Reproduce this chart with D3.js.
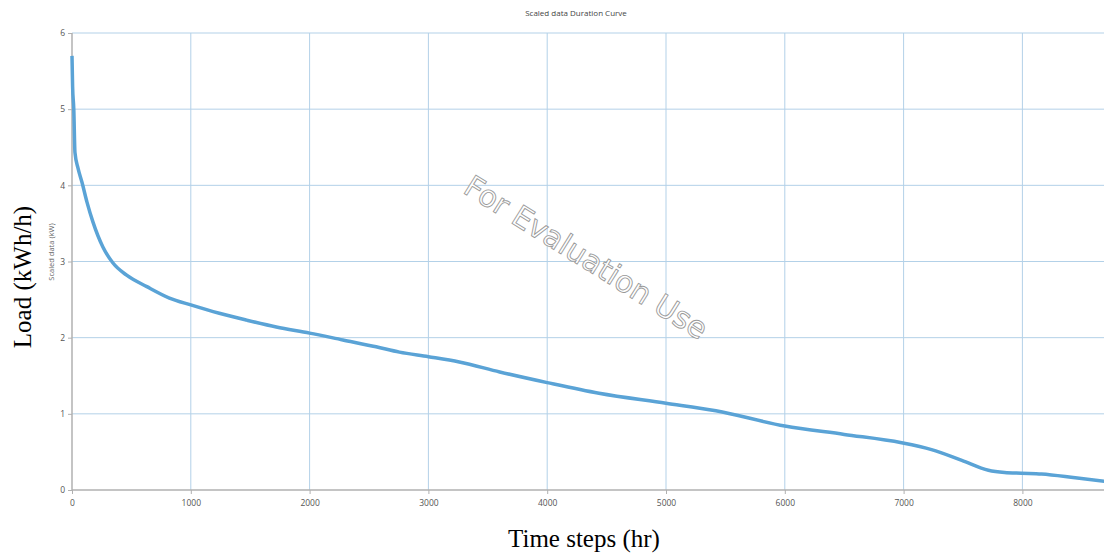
<!DOCTYPE html>
<html>
<head>
<meta charset="utf-8">
<script src="https://cdn.jsdelivr.net/npm/d3@7"></script>
<style>
  body { margin: 0; background: #fff; }
  svg { display: block; }
</style>
</head>
<body>
<script>
// load duration curve
var hours = [0, 5, 15, 25, 50, 84, 126, 176, 260, 345, 460, 630, 820, 1000, 1240, 1470,
    1720, 2000, 2280, 2560, 2756, 3000, 3260, 3600, 4000, 4436, 5000, 5420, 6000, 6500,
    6983, 7235, 7490, 7714, 7850, 7992, 8160, 8445, 8760];
var load = [5.7, 5.3, 5.0, 4.43, 4.23, 4.04, 3.78, 3.52, 3.19, 2.98, 2.82, 2.67, 2.52, 2.43,
    2.32, 2.23, 2.14, 2.06, 1.97, 1.88, 1.81, 1.75, 1.68, 1.55, 1.41, 1.27, 1.14, 1.04,
    0.84, 0.73, 0.62, 0.53, 0.39, 0.26, 0.23, 0.22, 0.21, 0.16, 0.10];
var xTicks = [0, 1000, 2000, 3000, 4000, 5000, 6000, 7000, 8000];
var yTicks = [0, 1, 2, 3, 4, 5, 6];

var W = 1104, H = 555;
var mLeft = 72, mTop = 33, mBottom = 490;

var svg = d3.select("body").append("svg")
    .attr("width", W)
    .attr("height", H);

var x = d3.scaleLinear().domain([0, 8760]).range([mLeft, mLeft + 8.76 * 118.8]);
var y = d3.scaleLinear().domain([0, 6]).range([mBottom, mTop]);

// grid
svg.append("g").selectAll("line").data(xTicks.filter(function (d) { return d > 0; }))
    .enter().append("line")
    .attr("x1", function (d) { return x(d); }).attr("x2", function (d) { return x(d); })
    .attr("y1", mTop).attr("y2", mBottom)
    .attr("stroke", "#b3d1e8").attr("stroke-width", 1);
svg.append("g").selectAll("line").data(yTicks.filter(function (d) { return d > 0; }))
    .enter().append("line")
    .attr("x1", mLeft).attr("x2", W)
    .attr("y1", function (d) { return y(d); }).attr("y2", function (d) { return y(d); })
    .attr("stroke", "#b3d1e8").attr("stroke-width", 1);

// axes
var axisX = d3.axisBottom(x).tickValues(xTicks).tickFormat(d3.format("d")).tickSize(4).tickPadding(6);
var axisY = d3.axisLeft(y).tickValues(yTicks).tickFormat(d3.format("d")).tickSize(4).tickPadding(3);

var gx = svg.append("g").attr("transform", "translate(0," + mBottom + ")").call(axisX);
var gy = svg.append("g").attr("transform", "translate(" + mLeft + ",0)").call(axisY);
gx.select(".domain").attr("d", "M" + mLeft + ",0H" + W);
gy.select(".domain").attr("d", "M0," + mTop + "V" + mBottom);
[gx, gy].forEach(function (g) {
    g.select(".domain").attr("stroke", "#b0b0b0").attr("stroke-width", 1.5);
    g.selectAll(".tick line").attr("stroke", "#b0b0b0");
    g.selectAll(".tick text").attr("fill", "#555")
        .style("font-family", "'Open Sans', 'DejaVu Sans', sans-serif")
        .style("font-size", "8.5px");
});

// watermark
svg.append("text")
    .attr("transform", "translate(585,259) rotate(32)")
    .attr("text-anchor", "middle")
    .attr("dominant-baseline", "middle")
    .style("font-family", "'DejaVu Sans', sans-serif")
    .style("font-size", "30px")
    .attr("fill", "#fff")
    .attr("stroke", "#999")
    .attr("stroke-width", 0.9)
    .text("For Evaluation Use");

// the curve
var line = d3.line()
    .x(function (d, i) { return x(hours[i]); })
    .y(function (d) { return y(d); })
    .curve(d3.curveMonotoneX);

svg.append("path")
    .datum(load)
    .attr("d", line)
    .attr("fill", "none")
    .attr("stroke", "#5aa3d6")
    .attr("stroke-width", 3.5)
    .attr("stroke-linejoin", "round");

// titles
svg.append("text")
    .attr("x", 576).attr("y", 16)
    .attr("text-anchor", "middle")
    .attr("fill", "#444")
    .style("font-family", "'Open Sans', 'DejaVu Sans', sans-serif")
    .style("font-size", "8px")
    .text("Scaled data Duration Curve");

svg.append("text")
    .attr("transform", "translate(54,252) rotate(-90)")
    .attr("text-anchor", "middle")
    .attr("fill", "#666")
    .style("font-family", "'Open Sans', 'DejaVu Sans', sans-serif")
    .style("font-size", "7.5px")
    .text("Scaled data (kW)");

svg.append("text")
    .attr("transform", "translate(31,277) rotate(-90)")
    .attr("text-anchor", "middle")
    .attr("fill", "#000")
    .style("font-family", "'Liberation Serif', 'Times New Roman', serif")
    .style("font-size", "25px")
    .text("Load (kWh/h)");

svg.append("text")
    .attr("x", 584).attr("y", 547)
    .attr("text-anchor", "middle")
    .attr("fill", "#000")
    .style("font-family", "'Liberation Serif', 'Times New Roman', serif")
    .style("font-size", "25px")
    .text("Time steps (hr)");
</script>
</body>
</html>
